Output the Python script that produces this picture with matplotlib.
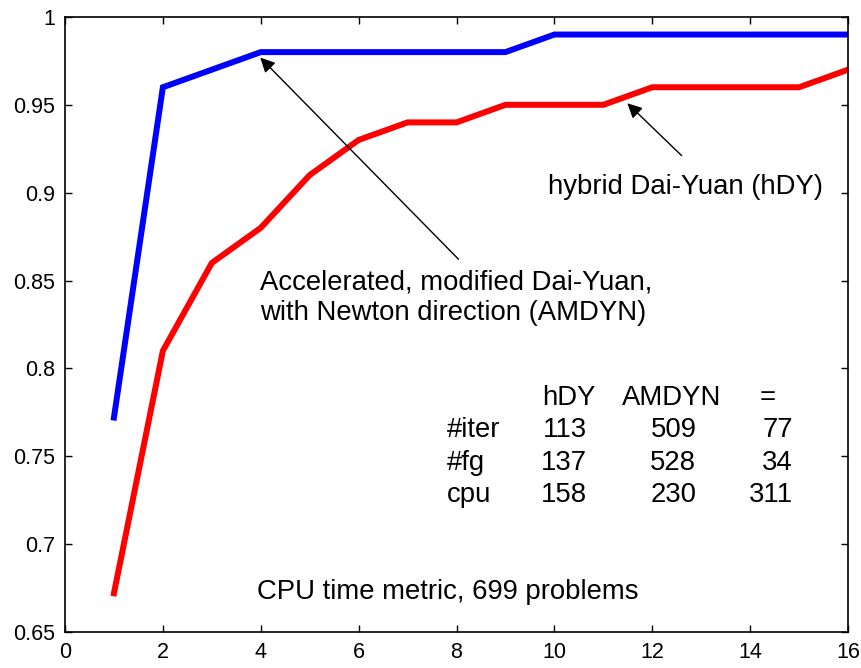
import numpy as np
import matplotlib.pyplot as plt

plt.rcParams['font.family'] = ['Liberation Sans', 'DejaVu Sans']

# performance profile values
t = [1, 2, 3, 4, 5, 6, 7, 8, 9, 10, 11, 12, 13, 14, 15, 16]
amdyn = [0.772, 0.96, 0.97, 0.98, 0.98, 0.98, 0.98, 0.98, 0.98, 0.99, 0.99, 0.99, 0.99, 0.99, 0.99, 0.99]
hdy = [0.672, 0.81, 0.86, 0.88, 0.91, 0.93, 0.94, 0.94, 0.95, 0.95, 0.95, 0.96, 0.96, 0.96, 0.96, 0.97]

# summary table
col_names = ['hDY', 'AMDYN', '=']
row_names = ['#iter', '#fg', 'cpu']
table = [[113, 509, 77],
         [137, 528, 34],
         [158, 230, 311]]

fig = plt.figure(figsize=(8.62, 6.68), dpi=100)
ax = fig.add_axes([0.0754, 0.054, 0.9084, 0.9206])

ax.plot(t, amdyn, color='blue', lw=4.3, solid_joinstyle='miter')
ax.plot(t, hdy, color='red', lw=4.3, solid_joinstyle='miter')

ax.set_xlim(0, 16)
ax.set_ylim(0.65, 1)
ax.set_xticks(np.arange(0, 17, 2))
ax.set_yticks(np.arange(0.65, 1.001, 0.05))
ax.set_yticklabels(['0.65', '0.7', '0.75', '0.8', '0.85', '0.9', '0.95', '1'])
ax.tick_params(direction='in', top=True, right=True, length=5, labelsize=15.5, width=1, pad=7)
for s in ax.spines.values():
    s.set_linewidth(1.2)

fs = 19.8
arrow = dict(arrowstyle='-|>', color='black', lw=1, mutation_scale=22)
ax.annotate('', xy=(3.95, 0.978), xytext=(8.08, 0.861), arrowprops=arrow)
ax.annotate('', xy=(11.45, 0.952), xytext=(12.64, 0.92), arrowprops=arrow)

ax.text(9.86, 0.903, 'hybrid Dai-Yuan (hDY)', fontsize=fs, va='center')
ax.text(3.99, 0.849, 'Accelerated, modified Dai-Yuan,', fontsize=fs, va='center')
ax.text(3.99, 0.8315, 'with Newton direction (AMDYN)', fontsize=fs, va='center')
ax.text(3.93, 0.673, 'CPU time metric, 699 problems', fontsize=fs, va='center')

col_x = [10.67, 12.9, 14.87]
head_x = [9.75, 11.39, 14.2]
row_y = [0.765, 0.746, 0.728]
for name, hx in zip(col_names, head_x):
    ax.text(hx, 0.783, name, fontsize=fs, va='center')
for i, name in enumerate(row_names):
    ax.text(7.81, row_y[i], name, fontsize=fs, va='center')
    for j in range(3):
        ax.text(col_x[j], row_y[i], str(table[i][j]), fontsize=fs, va='center', ha='right')

fig.savefig('out.png', dpi=100)
